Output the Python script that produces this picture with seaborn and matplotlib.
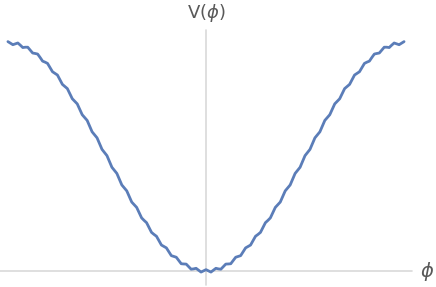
import numpy as np
import pandas as pd
import matplotlib
matplotlib.use("Agg")
import matplotlib.pyplot as plt
import seaborn as sns

# potential, one sample every quarter wiggle, phi = -80 .. 80
phi = [-80, -79, -78, -77, -76, -75, -74, -73, -72, -71, -70, -69, -68, -67, -66, -65,
       -64, -63, -62, -61, -60, -59, -58, -57, -56, -55, -54, -53, -52, -51, -50, -49,
       -48, -47, -46, -45, -44, -43, -42, -41, -40, -39, -38, -37, -36, -35, -34, -33,
       -32, -31, -30, -29, -28, -27, -26, -25, -24, -23, -22, -21, -20, -19, -18, -17,
       -16, -15, -14, -13, -12, -11, -10, -9, -8, -7, -6, -5, -4, -3, -2, -1,
       0, 1, 2, 3, 4, 5, 6, 7, 8, 9, 10, 11, 12, 13, 14, 15, 16, 17, 18, 19,
       20, 21, 22, 23, 24, 25, 26, 27, 28, 29, 30, 31, 32, 33, 34, 35, 36, 37, 38, 39,
       40, 41, 42, 43, 44, 45, 46, 47, 48, 49, 50, 51, 52, 53, 54, 55, 56, 57, 58, 59,
       60, 61, 62, 63, 64, 65, 66, 67, 68, 69, 70, 71, 72, 73, 74, 75, 76, 77, 78, 79, 80]

V = [2.012, 1.999, 1.985, 1.993, 2.000, 1.981, 1.960, 1.963, 1.963, 1.938,
     1.912, 1.908, 1.903, 1.873, 1.841, 1.832, 1.821, 1.785, 1.748, 1.734,
     1.719, 1.679, 1.637, 1.619, 1.600, 1.556, 1.511, 1.489, 1.466, 1.419,
     1.371, 1.346, 1.321, 1.271, 1.221, 1.195, 1.168, 1.118, 1.067, 1.039,
     1.012, 0.961, 0.910, 0.883, 0.856, 0.805, 0.755, 0.729, 0.703, 0.654,
     0.605, 0.581, 0.558, 0.511, 0.466, 0.444, 0.424, 0.381, 0.339, 0.321,
     0.305, 0.266, 0.228, 0.215, 0.203, 0.169, 0.135, 0.128, 0.121, 0.092,
     0.064, 0.062, 0.061, 0.038, 0.016, 0.019, 0.024, 0.007, -0.009, 0.001,
     0.012,
     0.001, -0.009, 0.007, 0.024, 0.019, 0.016, 0.038, 0.061, 0.062, 0.064,
     0.092, 0.121, 0.128, 0.135, 0.169, 0.203, 0.215, 0.228, 0.266, 0.305,
     0.321, 0.339, 0.381, 0.424, 0.444, 0.466, 0.511, 0.558, 0.581, 0.605,
     0.654, 0.703, 0.729, 0.755, 0.805, 0.856, 0.883, 0.910, 0.961, 1.012,
     1.039, 1.067, 1.118, 1.168, 1.195, 1.221, 1.271, 1.321, 1.346, 1.371,
     1.419, 1.466, 1.489, 1.511, 1.556, 1.600, 1.619, 1.637, 1.679, 1.719,
     1.734, 1.748, 1.785, 1.821, 1.832, 1.841, 1.873, 1.903, 1.908, 1.912,
     1.938, 1.963, 1.963, 1.960, 1.981, 2.000, 1.993, 1.985, 1.999, 2.012]

df = pd.DataFrame({"phi": phi, "V": V})

sns.set_style("white")
fig = plt.figure(figsize=(4.36, 2.87), dpi=100)
ax = fig.add_axes([0, 0, 1, 1])

# axes drawn through the origin
ax.plot([-83.2, 83.2], [0, 0], color="#d9d9d9", lw=1.2, zorder=1)
ax.plot([0, 0], [-0.125, 2.115], color="#d9d9d9", lw=1.2, zorder=1)

sns.lineplot(data=df, x="phi", y="V", ax=ax, color="#5b7db8", lw=2.0, zorder=3)

ax.set_xlim(-83.2, 92.9)
ax.set_ylim(-0.140, 2.377)
ax.axis("off")

ax.text(0, 2.265, r"V($\phi$)", ha="center", va="center", fontsize=13, color="#595959")
ax.text(89.5, 0.0, r"$\phi$", ha="center", va="center", fontsize=14, color="#595959")

fig.savefig("out.png", dpi=100)
